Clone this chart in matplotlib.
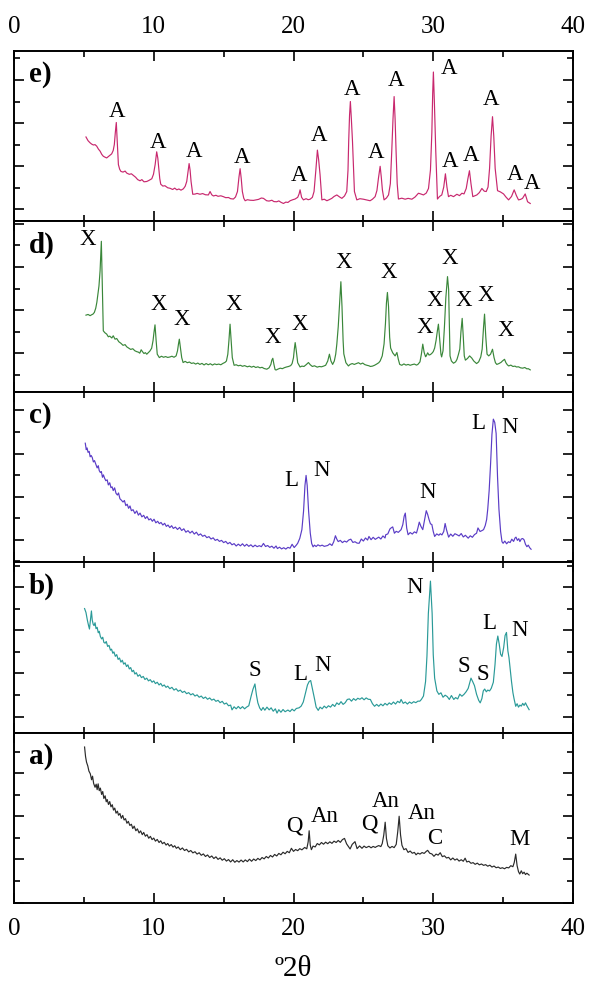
import numpy as np
import matplotlib
matplotlib.use("Agg")
import matplotlib.pyplot as plt
from matplotlib.ticker import MultipleLocator, FixedLocator

plt.rcParams['font.family'] = ['Liberation Serif', 'DejaVu Serif']

# ---------------- diffraction patterns (2theta in degrees, relative intensity) ----------------
e_2theta = [
    5.15, 5.3, 5.44, 5.56, 5.68, 5.8, 5.92, 6.04, 6.16, 6.28,
    6.39, 6.5, 6.63, 6.8, 6.99, 7.1, 7.18, 7.25, 7.32, 7.4,
    7.47, 7.56, 7.65, 7.8, 7.95, 8.07, 8.25, 8.4, 8.54, 8.7,
    8.85, 9.02, 9.15, 9.3, 9.5, 9.65, 9.86, 9.98, 10.1, 10.21,
    10.29, 10.36, 10.43, 10.5, 10.65, 10.8, 11.0, 11.17, 11.35, 11.5,
    11.65, 11.8, 11.95, 12.12, 12.25, 12.36, 12.45, 12.53, 12.6, 12.67,
    12.79, 12.95, 13.1, 13.31, 13.5, 13.7, 13.91, 14.03, 14.15, 14.27,
    14.45, 14.6, 14.8, 14.98, 15.15, 15.35, 15.5, 15.7, 15.85, 15.99,
    16.1, 16.18, 16.26, 16.34, 16.44, 16.54, 16.7, 16.9, 17.13, 17.3,
    17.5, 17.7, 17.85, 18.08, 18.25, 18.45, 18.6, 18.8, 18.95, 19.1,
    19.28, 19.45, 19.6, 19.76, 19.95, 20.11, 20.3, 20.4, 20.47, 20.58,
    20.71, 20.9, 21.05, 21.19, 21.35, 21.47, 21.6, 21.71, 21.8, 21.9,
    22.03, 22.2, 22.39, 22.55, 22.74, 22.9, 23.1, 23.3, 23.46, 23.65,
    23.81, 23.9, 23.95, 24.01, 24.07, 24.14, 24.22, 24.36, 24.53, 24.75,
    25.0, 25.25, 25.48, 25.65, 25.84, 25.97, 26.08, 26.2, 26.28, 26.36,
    26.48, 26.65, 26.8, 26.93, 27.03, 27.12, 27.2, 27.27, 27.34, 27.42,
    27.51, 27.75, 27.99, 28.2, 28.47, 28.7, 28.94, 29.1, 29.3, 29.5,
    29.66, 29.8, 29.9, 29.96, 30.01, 30.08, 30.18, 30.3, 30.45, 30.61,
    30.75, 30.87, 30.98, 31.09, 31.25, 31.45, 31.69, 31.88, 32.05, 32.2,
    32.36, 32.48, 32.59, 32.7, 32.83, 33.0, 33.12, 33.3, 33.48, 33.65,
    33.79, 33.92, 34.03, 34.14, 34.24, 34.33, 34.43, 34.6, 34.8, 35.03,
    35.2, 35.39, 35.6, 35.79, 35.95, 36.1, 36.25, 36.39, 36.58, 36.75,
    36.94]
e_counts = [
    49.4, 47.2, 46, 45.2, 44.7, 44.9, 44, 42.3, 41.1, 39.2,
    38.1, 37.6, 37.1, 38.2, 39.5, 41.5, 45, 52, 57.9, 45,
    33.2, 30.5, 29.2, 28.8, 29.4, 28.2, 27.5, 27.8, 26.9, 25.8,
    24.4, 23.7, 24.4, 23.1, 23.3, 23.9, 24.9, 27.5, 33.2, 40.7,
    37, 31.2, 25, 21.7, 20.6, 20.8, 19.6, 19.3, 18.6, 19.4,
    18.4, 18.9, 18.2, 19, 20.5, 23.3, 29, 33.8, 30, 23.3,
    15.8, 15.9, 16.3, 15.8, 16.2, 15.5, 15.4, 17.4, 15.5, 14.8,
    15.2, 14.6, 14.9, 14.4, 13.8, 13.9, 13.2, 13, 14.2, 17.4,
    26, 30.8, 25, 17.4, 13.5, 12, 12.6, 12.3, 12.2, 12.5,
    12.8, 13.6, 13.4, 12, 11.8, 12.3, 11.5, 11.4, 11.9, 11.1,
    10.4, 11.2, 11, 12, 12.6, 13, 14, 16, 18.4, 14,
    12.5, 13.2, 12.6, 12.9, 14, 17.4, 30, 41.7, 36, 27.3,
    12.5, 12.9, 12, 12.6, 13.4, 14.5, 15.4, 14.2, 13.4, 14.8,
    17.4, 30, 47, 62, 70.2, 60, 47, 17.4, 12.5, 13.2,
    12.9, 12.4, 12, 12.9, 14.4, 18, 25.3, 32.2, 26, 18.4,
    12.5, 13.6, 15.4, 22, 41, 60, 73.1, 60, 41, 22,
    13, 13.5, 12.9, 13.4, 12.9, 14.2, 16.4, 16, 15.4, 16.5,
    19.2, 30, 52, 75, 87.5, 70, 41, 13, 14.5, 15.4,
    20, 27.8, 20, 14.4, 15.2, 14.4, 15.8, 15, 16.4, 16,
    19.2, 25, 29.6, 22, 14.4, 15, 15.4, 16.8, 19.2, 17.6,
    17.4, 20, 31, 50, 61.3, 50, 31, 17.9, 17.2, 16,
    14.2, 12.5, 14.5, 18.4, 15, 12.5, 12.8, 13.4, 16, 11.4,
    10.4]

d_2theta = [
    5.15, 5.3, 5.45, 5.55, 5.65, 5.75, 5.85, 5.93, 5.99, 6.08,
    6.16, 6.25, 6.32, 6.39, 6.5, 6.63, 6.75, 6.85, 7.0, 7.1,
    7.23, 7.35, 7.5, 7.65, 7.8, 7.95, 8.07, 8.2, 8.35, 8.5,
    8.65, 8.78, 8.9, 9.0, 9.1, 9.2, 9.3, 9.4, 9.5, 9.62,
    9.72, 9.85, 9.95, 10.02, 10.09, 10.17, 10.25, 10.4, 10.55, 10.7,
    10.85, 11.0, 11.17, 11.3, 11.45, 11.6, 11.7, 11.77, 11.83, 11.92,
    12.0, 12.1, 12.25, 12.4, 12.55, 12.7, 12.85, 13.0, 13.15, 13.3,
    13.45, 13.6, 13.75, 13.9, 14.05, 14.2, 14.35, 14.5, 14.65, 14.8,
    14.95, 15.1, 15.2, 15.3, 15.38, 15.46, 15.54, 15.62, 15.75, 15.9,
    16.05, 16.2, 16.35, 16.5, 16.7, 16.85, 17.0, 17.15, 17.3, 17.45,
    17.6, 17.75, 17.9, 18.09, 18.25, 18.38, 18.45, 18.52, 18.6, 18.68,
    18.75, 18.9, 19.05, 19.2, 19.35, 19.5, 19.65, 19.8, 19.9, 20.0,
    20.06, 20.12, 20.2, 20.3, 20.47, 20.6, 20.75, 20.9, 21.07, 21.2,
    21.35, 21.5, 21.7, 21.85, 22.0, 22.15, 22.3, 22.45, 22.57, 22.68,
    22.8, 22.92, 23.02, 23.1, 23.2, 23.3, 23.39, 23.47, 23.55, 23.6,
    23.75, 23.93, 24.05, 24.2, 24.35, 24.5, 24.65, 24.8, 24.95, 25.1,
    25.25, 25.4, 25.5, 25.65, 25.8, 25.95, 26.1, 26.2, 26.35, 26.48,
    26.58, 26.65, 26.72, 26.8, 26.88, 26.95, 27.1, 27.27, 27.4, 27.5,
    27.6, 27.75, 27.9, 28.05, 28.2, 28.35, 28.5, 28.65, 28.8, 28.9,
    29.05, 29.15, 29.25, 29.35, 29.45, 29.5, 29.6, 29.7, 29.8, 29.9,
    30.0, 30.1, 30.2, 30.3, 30.37, 30.45, 30.55, 30.6, 30.7, 30.8,
    30.9, 31.02, 31.1, 31.15, 31.2, 31.3, 31.45, 31.6, 31.7, 31.8,
    31.9, 31.98, 32.07, 32.15, 32.22, 32.3, 32.45, 32.6, 32.75, 32.9,
    33.1, 33.25, 33.4, 33.5, 33.6, 33.67, 33.76, 33.85, 33.97, 34.1,
    34.24, 34.35, 34.45, 34.55, 34.7, 34.85, 34.95, 35.1, 35.2, 35.3,
    35.4, 35.55, 35.7, 35.85, 35.95, 36.1, 36.25, 36.4, 36.55, 36.7,
    36.8, 36.94]
d_counts = [
    44.9, 45.3, 44.6, 45.1, 45.5, 46.5, 49, 52.5, 56.3, 62,
    71, 88.2, 62, 35.7, 34.6, 33.8, 32.2, 32.6, 31.5, 32.8,
    30.8, 31.2, 29.3, 28.4, 27.2, 27.6, 26.3, 25.6, 24.8, 25.2,
    24, 23.5, 23.2, 22.6, 24.6, 23.4, 22.4, 22.9, 22, 23,
    23.8, 25.5, 30, 35, 39.2, 30, 22, 20, 20.8, 20.2,
    20.6, 20.1, 20.4, 20.8, 20.2, 21, 24, 28, 30.8, 25,
    20, 17.1, 17.8, 17, 17.4, 16.6, 16.9, 16.2, 16.8, 16,
    16.6, 15.7, 16.5, 15.8, 16.4, 15.6, 16.3, 15.9, 16.2, 15.8,
    16.6, 17.2, 18, 22, 30, 39.6, 30, 20, 15.5, 15.8,
    15.2, 15.5, 14.9, 15.3, 14.6, 15, 14.4, 14.9, 14.2, 14.6,
    14, 14.3, 13.6, 13.2, 14, 16, 18.5, 19.6, 16, 13,
    12.7, 13.3, 13.8, 13.5, 14.1, 14.5, 14.8, 15.3, 16.5, 20,
    25, 28.8, 24, 17, 14.5, 15, 14.8, 15.8, 17.1, 15.8,
    14.8, 15.2, 14.4, 14.8, 14.6, 15, 15.5, 18, 22, 18,
    16, 18, 22, 27.9, 38, 52, 64.5, 50, 30, 22.2,
    17, 15.1, 16, 16.5, 16, 16.5, 17, 16.2, 16.8, 15.9,
    15.5, 15.2, 14.8, 15, 15.5, 16.2, 17, 18, 21, 28,
    40, 52, 58.2, 50, 32, 25.6, 22.8, 21, 23, 19,
    16, 15.5, 16.3, 15.6, 16, 15.5, 15.9, 16.2, 15.6, 16,
    17.5, 22, 27.9, 23, 20.5, 21, 22.8, 21.5, 21.8, 22.5,
    23.5, 25.6, 30, 36, 39.6, 32, 22, 20.4, 24, 38,
    55, 67.5, 60, 40, 21, 18, 16.7, 17.5, 19, 21.8,
    25, 35, 43, 32, 21, 18.5, 19.5, 21, 19.8, 18,
    16.5, 17.5, 20.4, 25, 38, 45.5, 32, 22, 21, 22,
    24.9, 20, 17, 16, 16.5, 17.2, 18, 19, 17, 15.8,
    15.1, 15.6, 14.8, 15, 14.5, 14.6, 14, 13.8, 14.2, 13.4,
    13.5, 12.8]

c_2theta = [
    5.1, 5.17, 5.23, 5.3, 5.38, 5.45, 5.52, 5.6, 5.68, 5.76,
    5.86, 5.95, 6.03, 6.1, 6.18, 6.25, 6.33, 6.4, 6.48, 6.57,
    6.67, 6.75, 6.85, 6.94, 7.02, 7.1, 7.2, 7.3, 7.4, 7.48,
    7.58, 7.68, 7.8, 7.9, 8.0, 8.1, 8.2, 8.3, 8.4, 8.52,
    8.65, 8.78, 8.9, 9.02, 9.15, 9.28, 9.4, 9.52, 9.65, 9.78,
    9.9, 10.02, 10.15, 10.28, 10.4, 10.52, 10.65, 10.78, 10.9, 11.02,
    11.15, 11.28, 11.4, 11.55, 11.7, 11.85, 12.0, 12.15, 12.3, 12.45,
    12.6, 12.75, 12.9, 13.05, 13.2, 13.35, 13.5, 13.65, 13.8, 13.95,
    14.1, 14.25, 14.4, 14.55, 14.7, 14.85, 15.0, 15.15, 15.3, 15.45,
    15.6, 15.75, 15.9, 16.05, 16.2, 16.35, 16.5, 16.65, 16.8, 16.95,
    17.1, 17.25, 17.4, 17.55, 17.7, 17.85, 18.0, 18.15, 18.3, 18.45,
    18.6, 18.75, 18.85, 19.0, 19.15, 19.3, 19.45, 19.6, 19.75, 19.9,
    20.05, 20.2, 20.3, 20.45, 20.6, 20.72, 20.82, 20.9, 20.98, 21.08,
    21.2, 21.3, 21.4, 21.5, 21.62, 21.75, 21.9, 22.05, 22.2, 22.3,
    22.45, 22.6, 22.75, 22.88, 23.0, 23.1, 23.2, 23.35, 23.5, 23.65,
    23.8, 23.95, 24.1, 24.25, 24.4, 24.55, 24.7, 24.85, 25.0, 25.15,
    25.3, 25.4, 25.55, 25.7, 25.85, 26.0, 26.1, 26.25, 26.4, 26.55,
    26.6, 26.75, 26.9, 27.0, 27.1, 27.22, 27.35, 27.5, 27.6, 27.7,
    27.82, 27.92, 28.0, 28.1, 28.2, 28.35, 28.5, 28.65, 28.8, 28.9,
    29.0, 29.12, 29.25, 29.38, 29.5, 29.6, 29.7, 29.8, 29.9, 30.0,
    30.1, 30.25, 30.4, 30.5, 30.62, 30.75, 30.85, 30.95, 31.1, 31.25,
    31.4, 31.55, 31.7, 31.85, 32.0, 32.15, 32.3, 32.5, 32.65, 32.8,
    32.95, 33.1, 33.2, 33.35, 33.5, 33.6, 33.72, 33.82, 33.9, 34.0,
    34.1, 34.2, 34.3, 34.4, 34.5, 34.6, 34.7, 34.82, 34.92, 35.0,
    35.12, 35.25, 35.38, 35.5, 35.62, 35.75, 35.85, 35.92, 36.02, 36.12,
    36.2, 36.3, 36.4, 36.5, 36.6, 36.7, 36.8, 36.9, 37.0]
c_counts = [
    69.8, 66, 67, 64.4, 65, 61.8, 62.6, 61.4, 58.8, 59.6,
    57.3, 55.3, 56.6, 53.7, 52.6, 53.2, 49.8, 51.2, 49.3, 47.8,
    48.3, 45.3, 46.6, 43.7, 44.2, 42, 43.6, 40.4, 39.4, 40.6,
    37.2, 36.4, 35.3, 36.2, 33.2, 34, 31.6, 33, 30.2, 30.8,
    28.6, 30.1, 27.6, 28.8, 26.6, 27.5, 25.6, 26.8, 24.8, 25.5,
    24, 25.2, 23.1, 24, 22.6, 23.3, 21.8, 22.8, 21, 21.8,
    20.3, 21.4, 19.8, 20.6, 19.2, 20.4, 18.6, 19.6, 17.6, 18.5,
    17.1, 18.2, 16.5, 17.6, 15.8, 16.6, 15.2, 15.8, 14.4, 15,
    13.6, 14.3, 12.8, 13.4, 12.2, 12.8, 11.5, 12.2, 10.8, 11.6,
    10.2, 10.9, 9.5, 10.6, 9.6, 10.8, 9.4, 10.5, 9.3, 10.2,
    9, 10, 9.1, 9.7, 9.1, 11, 9.2, 9.8, 8.7, 9.4,
    8.2, 9.5, 8, 8.8, 7.8, 8.5, 7.7, 8.7, 8.2, 10.5,
    8.6, 10, 11.1, 14, 19.1, 30, 45, 50.9, 45, 30,
    17.1, 11, 9, 10, 9.2, 10.2, 9.5, 10, 9.3, 9.5,
    9.8, 10.8, 9.8, 12, 15.5, 13.5, 12.1, 12.8, 11.5, 12.4,
    11.8, 13, 13.5, 11.6, 12, 11.2, 11.1, 13.6, 12.4, 14.2,
    13, 15.1, 13.2, 14.6, 13.4, 14.2, 14.7, 13.6, 15.4, 14.2,
    16.1, 16.6, 19.5, 20.2, 20.7, 17, 18.1, 17.5, 18.3, 19.1,
    22, 27, 28.8, 20, 16.1, 17.4, 16.5, 17.8, 17.1, 20,
    23.5, 21, 19.1, 25, 30.2, 28, 25, 22.5, 22.1, 18,
    15.1, 16.6, 15.8, 16.7, 16, 18, 22.7, 19, 14.7, 16.5,
    15.2, 16.7, 16.1, 15.4, 16.8, 14.8, 15.8, 14.1, 15.5, 14.6,
    16.2, 17, 20.1, 18, 18.6, 19.1, 21.5, 25, 31.2, 42,
    57.3, 75, 83.9, 82, 75.5, 50, 31.2, 18, 12, 11.1,
    12.4, 10.8, 12, 11.5, 13.5, 12.2, 14.2, 14.7, 12.8, 13.8,
    12.1, 13.6, 13.9, 13.1, 10.5, 9.1, 10, 8.5, 7.6]

b_2theta = [
    5.05, 5.15, 5.25, 5.33, 5.4, 5.47, 5.54, 5.6, 5.67, 5.73,
    5.8, 5.87, 5.95, 6.03, 6.1, 6.18, 6.27, 6.35, 6.43, 6.52,
    6.6, 6.7, 6.8, 6.9, 6.98, 7.07, 7.15, 7.25, 7.35, 7.45,
    7.55, 7.65, 7.75, 7.85, 7.95, 8.05, 8.15, 8.25, 8.35, 8.45,
    8.55, 8.65, 8.75, 8.87, 9.0, 9.12, 9.25, 9.37, 9.5, 9.62,
    9.75, 9.88, 10.0, 10.12, 10.25, 10.38, 10.5, 10.62, 10.75, 10.88,
    11.0, 11.15, 11.3, 11.45, 11.6, 11.75, 11.9, 12.05, 12.2, 12.35,
    12.5, 12.65, 12.8, 12.95, 13.1, 13.25, 13.4, 13.55, 13.7, 13.85,
    14.0, 14.15, 14.3, 14.45, 14.6, 14.75, 14.9, 15.05, 15.2, 15.35,
    15.5, 15.6, 15.75, 15.9, 16.05, 16.2, 16.35, 16.5, 16.64, 16.8,
    16.97, 17.1, 17.24, 17.35, 17.45, 17.58, 17.7, 17.82, 17.95, 18.1,
    18.26, 18.4, 18.55, 18.7, 18.82, 18.95, 19.1, 19.25, 19.4, 19.6,
    19.75, 19.9, 20.05, 20.2, 20.4, 20.55, 20.7, 20.85, 21.0, 21.12,
    21.23, 21.35, 21.5, 21.62, 21.77, 21.9, 22.05, 22.2, 22.35, 22.5,
    22.65, 22.8, 22.95, 23.1, 23.25, 23.4, 23.55, 23.7, 23.85, 24.0,
    24.15, 24.3, 24.45, 24.6, 24.75, 24.9, 25.05, 25.2, 25.35, 25.5,
    25.65, 25.8, 25.95, 26.1, 26.25, 26.4, 26.55, 26.7, 26.85, 27.0,
    27.15, 27.3, 27.45, 27.6, 27.7, 27.85, 28.0, 28.15, 28.3, 28.45,
    28.6, 28.75, 28.9, 29.04, 29.15, 29.3, 29.45, 29.55, 29.65, 29.8,
    29.92, 30.0, 30.1, 30.26, 30.4, 30.55, 30.7, 30.85, 31.0, 31.15,
    31.3, 31.47, 31.6, 31.75, 31.9, 32.05, 32.2, 32.35, 32.5, 32.6,
    32.7, 32.82, 32.95, 33.1, 33.25, 33.36, 33.48, 33.58, 33.68, 33.8,
    33.9, 34.03, 34.15, 34.3, 34.42, 34.52, 34.62, 34.72, 34.82, 34.92,
    35.04, 35.14, 35.24, 35.34, 35.42, 35.5, 35.6, 35.7, 35.78, 35.9,
    36.0, 36.1, 36.2, 36.3, 36.4, 36.5, 36.6, 36.7, 36.86]
b_counts = [
    72.8, 70.5, 66, 63, 60.8, 66, 71.4, 66, 63.5, 62.8,
    64.5, 61, 61.8, 58.6, 59.5, 56.4, 55, 56, 53, 52.5,
    53.5, 50.6, 51.2, 48.4, 49, 46.6, 47.4, 44.8, 45.8, 43,
    43.8, 41.4, 42.5, 40.2, 41, 38.8, 39.8, 37.4, 38.2, 35.8,
    36.6, 34.4, 35.2, 33.1, 34, 32.3, 33, 31.2, 32, 30.4,
    31.1, 29.6, 30.4, 28.8, 29.6, 28, 28.9, 27.3, 28, 26.6,
    27.3, 25.8, 26.6, 25, 25.8, 24.3, 25, 23.6, 24.3, 22.9,
    23.5, 22.2, 22.9, 21.5, 22.2, 20.8, 21.5, 20.1, 20.9, 19.6,
    20.4, 19.1, 19.7, 18.4, 19, 17.6, 18.4, 16.8, 17.4, 15.8,
    16.2, 13.4, 15.2, 14, 15.4, 14.1, 15.3, 14, 15, 15.8,
    21.5, 25.5, 28.6, 22, 17.5, 14.5, 13.1, 14.8, 13.2, 15,
    13.4, 14.6, 12.6, 14, 11.5, 13.5, 12, 13.6, 12.3, 13.3,
    12.4, 13.8, 12.8, 14.2, 14.6, 15.6, 18, 23, 28, 30,
    30.6, 26, 20, 15, 13.1, 15, 14, 15.6, 14.5, 15.8,
    15, 16.6, 15.4, 17.5, 16.5, 18.2, 16.6, 17.6, 19.5, 19.8,
    18.5, 20, 19, 20.2, 19.6, 20.5, 19.3, 20.4, 19.6, 19.5,
    17, 15.5, 16.6, 15.5, 16.8, 15.8, 17.2, 16.2, 17.5, 16.6,
    18, 16.8, 18.4, 17.6, 19.5, 17.2, 18, 16.8, 18, 17.2,
    18.2, 17.6, 18.5, 18.5, 19.5, 21.5, 30, 45, 70, 88.9,
    70, 45.7, 32, 24.5, 22.5, 23.4, 20.8, 22, 21.2, 19.5,
    21.8, 19.5, 20.6, 19.8, 22.6, 21.4, 22.5, 24, 26, 29,
    32, 30, 27.6, 22.5, 19, 17.5, 20, 24.5, 25.6, 24,
    25, 24.5, 26, 29.6, 40, 52, 56.7, 52, 46, 44.7,
    50, 57, 58.8, 48, 44, 37.6, 30, 23.5, 20, 15.5,
    17, 15, 16.2, 15.6, 17.2, 16, 17.5, 15.8, 13.5]

a_2theta = [
    5.05, 5.12, 5.19, 5.28, 5.36, 5.46, 5.55, 5.62, 5.7, 5.8,
    5.88, 5.95, 6.02, 6.1, 6.18, 6.27, 6.35, 6.43, 6.52, 6.6,
    6.67, 6.76, 6.85, 6.94, 7.03, 7.12, 7.21, 7.3, 7.4, 7.48,
    7.58, 7.68, 7.78, 7.88, 7.98, 8.08, 8.18, 8.29, 8.4, 8.5,
    8.6, 8.72, 8.83, 8.95, 9.06, 9.18, 9.28, 9.4, 9.52, 9.64,
    9.76, 9.88, 10.0, 10.12, 10.25, 10.38, 10.5, 10.62, 10.75, 10.88,
    11.0, 11.12, 11.25, 11.38, 11.5, 11.62, 11.75, 11.9, 12.05, 12.2,
    12.35, 12.5, 12.65, 12.8, 12.95, 13.1, 13.25, 13.4, 13.55, 13.7,
    13.85, 14.0, 14.15, 14.3, 14.45, 14.6, 14.75, 14.9, 15.05, 15.2,
    15.35, 15.5, 15.65, 15.8, 15.95, 16.1, 16.25, 16.4, 16.55, 16.7,
    16.85, 17.0, 17.15, 17.3, 17.45, 17.6, 17.75, 17.9, 18.05, 18.2,
    18.35, 18.5, 18.65, 18.8, 18.95, 19.1, 19.25, 19.4, 19.55, 19.7,
    19.85, 20.0, 20.15, 20.3, 20.45, 20.6, 20.8, 20.95, 21.05, 21.12,
    21.2, 21.28, 21.4, 21.55, 21.7, 21.85, 22.0, 22.15, 22.3, 22.45,
    22.6, 22.75, 22.9, 23.05, 23.2, 23.35, 23.5, 23.65, 23.8, 23.95,
    24.05, 24.2, 24.4, 24.55, 24.73, 24.9, 25.05, 25.2, 25.4, 25.55,
    25.7, 25.85, 25.94, 26.1, 26.25, 26.35, 26.46, 26.56, 26.65, 26.75,
    26.9, 27.05, 27.2, 27.35, 27.46, 27.56, 27.66, 27.76, 27.9, 28.05,
    28.2, 28.35, 28.5, 28.65, 28.77, 28.9, 29.05, 29.2, 29.35, 29.5,
    29.6, 29.75, 29.9, 30.05, 30.2, 30.35, 30.5, 30.65, 30.8, 30.95,
    31.1, 31.25, 31.4, 31.55, 31.7, 31.85, 32.0, 32.15, 32.28, 32.4,
    32.55, 32.7, 32.85, 33.0, 33.15, 33.3, 33.45, 33.6, 33.75, 33.9,
    34.05, 34.2, 34.35, 34.5, 34.65, 34.8, 34.95, 35.1, 35.25, 35.4,
    35.55, 35.7, 35.8, 35.9, 36.0, 36.1, 36.19, 36.3, 36.4, 36.5,
    36.6, 36.7, 36.86]
a_counts = [
    91.6, 86, 82.7, 80.5, 77.5, 75.9, 72.4, 74.5, 70.2, 68,
    69.8, 66.6, 70, 66, 67.5, 63.8, 65.5, 61.4, 63, 59.5,
    60.8, 57.9, 59.6, 56.5, 57.8, 54.6, 55.8, 52.8, 54, 51.6,
    52.6, 49.8, 51.5, 48.8, 49.6, 46.9, 48, 45.6, 46.3, 43.8,
    45.2, 42.5, 43.6, 41.2, 42.4, 40.2, 41.5, 39.3, 40.2, 38.1,
    39.2, 37.3, 38.2, 36.4, 37.4, 35.6, 36.6, 34.9, 35.7, 34.1,
    35, 33.5, 34.4, 32.9, 33.7, 32.2, 33, 31.4, 32.4, 30.9,
    31.6, 30.1, 30.9, 29.5, 30.2, 28.8, 29.6, 28.1, 28.9, 27.4,
    28.3, 26.8, 27.7, 26.2, 27.2, 25.7, 26.6, 25.2, 26.1, 24.7,
    25.6, 24.2, 25.5, 24, 25, 24.1, 25.3, 24.2, 25.4, 24.4,
    25.8, 24.6, 25.9, 25, 26.3, 25.4, 26.8, 26, 27.4, 26.5,
    28, 27.1, 28.6, 27.7, 29.2, 28.4, 29.9, 29, 30.4, 29.6,
    32.2, 30.4, 31.5, 30.8, 32, 31.3, 32.7, 31.9, 36, 42.5,
    34, 31.4, 33.5, 33, 35, 34.2, 35.6, 34.6, 35.8, 34.9,
    36, 35.1, 36.4, 35.6, 36.8, 35.7, 37.3, 38, 34.8, 33,
    31.8, 34.5, 36.1, 32, 33.6, 32.2, 33.5, 32.6, 33.4, 32.5,
    33.3, 32.7, 33.2, 33.8, 33.2, 35, 40, 47.5, 38, 33.7,
    32.4, 33.3, 32.6, 34.5, 42, 51, 40, 34, 31.4, 32,
    29.8, 30.6, 29.3, 29.8, 28.4, 29.4, 28.8, 29.7, 29.2, 30.4,
    31, 29.3, 28.9, 27.5, 28.8, 28.2, 29.6, 27.3, 27.8, 26.5,
    26.9, 25.4, 26.5, 25.3, 26, 24.7, 25.5, 24.6, 26.4, 24.2,
    24.6, 23.4, 23.8, 22.8, 23.5, 22.5, 23, 22.2, 22.6, 21.7,
    22.3, 21.2, 21.8, 20.8, 21.2, 20.4, 20.8, 20.2, 21, 20.7,
    22, 21.4, 24, 28.8, 22, 18.5, 17.1, 19, 17.3, 18.2,
    16.8, 17.6, 16.5]

# ---------------- phase identifications ----------------
e_phase = ["A"] * 15
e_phase_x = [7.4, 10.29, 12.88, 16.3, 20.42, 21.86, 24.22, 25.91, 27.34,
             31.16, 31.21, 32.69, 34.17, 35.86, 37.06]
e_phase_y = [64.2, 46, 41.1, 37.5, 26.9, 50, 77.1, 40.1, 82.6,
             89.6, 35.2, 38.7, 71.2, 27.3, 22.3]

d_phase = ["X"] * 14
d_phase_x = [5.25, 10.33, 12.0, 15.7, 18.52, 20.42, 23.57, 26.84, 29.42,
             30.14, 31.16, 32.16, 33.76, 35.2]
d_phase_y = [89, 51, 42.6, 51.4, 31.8, 39.2, 75.9, 70, 37.6,
             53.4, 77.9, 53.4, 56.3, 36.1]

c_phase = ["L", "N", "N", "L", "N"]
c_phase_x = [19.82, 22.03, 29.58, 33.22, 35.43]
c_phase_y = [47.7, 53.7, 40.6, 81.5, 78.9]

b_phase = ["S", "L", "N", "N", "S", "S", "L", "N"]
b_phase_x = [17.26, 20.5, 22.1, 28.64, 32.2, 33.57, 34.03, 36.19]
b_phase_y = [36.6, 34.2, 39.6, 84.9, 38.6, 34.0, 63.8, 60.2]

a_phase = ["Q", "An", "Q", "An", "An", "C", "M"]
a_phase_x = [20.07, 22.25, 25.46, 26.6, 29.18, 30.07, 36.19]
a_phase_y = [45.5, 51, 46.5, 59.6, 52.9, 38, 37.3]

panel_tags = ["e)", "d)", "c)", "b)", "a)"]
panel_colors = ["#C8286E", "#3A873A", "#5A3CC6", "#2A9A98", "#2A2A2A"]
first_major = [6.9, -2.8, 13.1, 9.5, 0.4]

patterns = [
    (e_2theta, e_counts, e_phase, e_phase_x, e_phase_y),
    (d_2theta, d_counts, d_phase, d_phase_x, d_phase_y),
    (c_2theta, c_counts, c_phase, c_phase_x, c_phase_y),
    (b_2theta, b_counts, b_phase, b_phase_x, b_phase_y),
    (a_2theta, a_counts, a_phase, a_phase_x, a_phase_y),
]

# ---------------- figure ----------------
W, H = 589, 989
fig = plt.figure(figsize=(W / 100, H / 100), dpi=100)
left, right = 14 / W, 573 / W
top_px, panel_px = 50.7, 170.5
step = 25.3

for i, ((tt, cnt, names, px, py), tag, col, off) in enumerate(
        zip(patterns, panel_tags, panel_colors, first_major)):
    y0 = 1 - (top_px + (i + 1) * panel_px) / H
    ax = fig.add_axes([left, y0, right - left, panel_px / H])
    ax.plot(tt, cnt, color=col, lw=0.85)
    ax.set_xlim(0, 40)
    ax.set_ylim(0, 100)
    ax.xaxis.set_major_locator(MultipleLocator(10))
    ax.xaxis.set_minor_locator(MultipleLocator(5))
    majors = [v for v in np.arange(off, 100, step) if 0 <= v <= 100]
    minors = [v for v in np.arange(off - step / 2, 100, step) if 0 <= v <= 100]
    ax.yaxis.set_major_locator(FixedLocator(majors))
    ax.yaxis.set_minor_locator(FixedLocator(minors))
    ax.tick_params(which='both', direction='in', top=True, right=True,
                   labelleft=False, labelright=False,
                   labelbottom=(i == 4), labeltop=(i == 0),
                   width=1.2, labelsize=18, pad=(11 if i == 4 else 9))
    ax.tick_params(which='major', length=7.5)
    ax.tick_params(which='minor', length=4.5)
    for sp in ax.spines.values():
        sp.set_linewidth(1.4)
    ax.text(0.027, 0.86, tag, transform=ax.transAxes, fontsize=21,
            fontweight='bold', ha='left', va='center')
    for name, x, y in zip(names, px, py):
        ax.text(x, y, name, ha='center', va='center', fontsize=16.5)

fig.text(293.5 / W, 1 - 969 / H, "º2θ", ha='center', va='center', fontsize=21)

fig.savefig("out.png", dpi=100)
